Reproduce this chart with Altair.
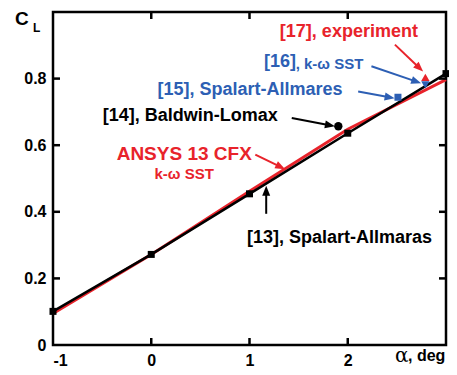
import math
import altair as alt
import pandas as pd

# ---------------- data ----------------
alpha = [-1, 0, 1, 2, 3]
cl_13 = [0.101, 0.272, 0.454, 0.636, 0.815]       # [13] Spalart-Allmaras (black, squares)
cl_ansys = [0.095, 0.272, 0.462, 0.648, 0.797]    # ANSYS 13 CFX k-w SST (red line)

pt14_a, pt14_c = [1.904], [0.657]   # [14] Baldwin-Lomax (black circle)
pt15_a, pt15_c = [2.511], [0.744]   # [15] Spalart-Allmares (blue square)
pt16_a, pt16_c = [2.79], [0.781]    # [16] k-w SST (blue triangle down)
pt17_a, pt17_c = [2.79], [0.804]    # [17] experiment (red triangle up)

x_tick_vals = [0, 1, 2]
y_tick_vals = [0.2, 0.4, 0.6, 0.8]
x_label_vals = [-1, 0, 1, 2]
y_label_vals = [0, 0.2, 0.4, 0.6, 0.8]

# annotation texts (left x, middle y in data units)
bold_texts = ["[17], experiment", "[16]", "[15], Spalart-Allmares", "ANSYS 13 CFX",
              "[13], Spalart-Allmaras", ", k-\u03c9 SST", "k-\u03c9 SST", "[14], Baldwin-Lomax"]
bold_x = [1.309, 1.147, 0.063, -0.352, 0.975, 1.47, 0.033, -0.494]
bold_y = [0.940, 0.850, 0.765, 0.573, 0.320, 0.845, 0.515, 0.6875]
bold_size = [18, 18, 18, 19, 18, 15, 15, 18]
bold_color = ["#e8232b", "#2d5fb4", "#2d5fb4", "#e8232b", "#000000", "#2d5fb4", "#e8232b", "#000000"]

# arrows: start -> tip, data units
arr_x0 = [2.480, 2.241, 2.106, 1.430, 1.059, 1.170]
arr_y0 = [0.902, 0.837, 0.761, 0.682, 0.572, 0.394]
arr_x1 = [2.767, 2.747, 2.477, 1.869, 1.363, 1.170]
arr_y1 = [0.821, 0.786, 0.741, 0.657, 0.528, 0.478]
arr_color = ["#e8232b", "#2d5fb4", "#2d5fb4", "#000000", "#e8232b", "#000000"]

RED = "#e8232b"
BLUE = "#2d5fb4"
FONT = "Liberation Sans"

W, H = 393, 333
XD, YD = [-1, 3], [0, 1]

xs = alt.Scale(domain=XD, nice=False, zero=False)
ys = alt.Scale(domain=YD, nice=False, zero=False)

AX_X = alt.Axis(values=x_label_vals, ticks=False, domain=False, grid=False, title=None,
                labelExpr="datum.value < 0 ? '-' + abs(datum.value) : '' + datum.value")
AX_Y = alt.Axis(values=y_label_vals, ticks=False, domain=False, grid=False, title=None,
                labelExpr="datum.value == 0 ? '0' : format(datum.value, '.1f')")


def to_px(a, c):
    return ((a - XD[0]) / (XD[1] - XD[0]) * W, (1 - (c - YD[0]) / (YD[1] - YD[0])) * H)


def to_data(px, py):
    return (XD[0] + px / W * (XD[1] - XD[0]), YD[0] + (1 - py / H) * (YD[1] - YD[0]))


# arrow geometry
rows = []
HEAD = 10.0
for x0, y0, x1, y1, col in zip(arr_x0, arr_y0, arr_x1, arr_y1, arr_color):
    p0 = to_px(x0, y0)
    p1 = to_px(x1, y1)
    dx, dy = p1[0] - p0[0], p1[1] - p0[1]
    L = math.hypot(dx, dy)
    ang = math.degrees(math.atan2(dx, -dy)) % 360
    e = to_data(p1[0] - dx / L * (HEAD - 2), p1[1] - dy / L * (HEAD - 2))
    rows.append(dict(x0=x0, y0=y0, xe=e[0], ye=e[1], x1=x1, y1=y1, color=col, angle=ang))
arrows = pd.DataFrame(rows)

lines = pd.DataFrame({"alpha": alpha, "cl13": cl_13, "ansys": cl_ansys})


def bx(f):
    return alt.X(f, type="quantitative", scale=xs, axis=AX_X, title=None)


def by(f):
    return alt.Y(f, type="quantitative", scale=ys, axis=AX_Y, title=None)


red_line = alt.Chart(lines).mark_line(color=RED, strokeWidth=3).encode(
    x=bx("alpha"), y=by("ansys"))
black_line = alt.Chart(lines).mark_line(color="black", strokeWidth=2.5).encode(
    x=bx("alpha"), y=by("cl13"))
black_sq = alt.Chart(lines).mark_square(color="black", size=49, opacity=1, clip=False).encode(
    x=bx("alpha"), y=by("cl13"))

p14 = alt.Chart(pd.DataFrame({"a": pt14_a, "c": pt14_c})).mark_circle(
    color="black", size=70, opacity=1).encode(x=bx("a"), y=by("c"))
p15 = alt.Chart(pd.DataFrame({"a": pt15_a, "c": pt15_c})).mark_square(
    color=BLUE, size=49, opacity=1).encode(x=bx("a"), y=by("c"))
p16 = alt.Chart(pd.DataFrame({"a": pt16_a, "c": pt16_c})).mark_point(
    shape="triangle-down", filled=True, color=BLUE, size=70, opacity=1).encode(x=bx("a"), y=by("c"))
p17 = alt.Chart(pd.DataFrame({"a": pt17_a, "c": pt17_c})).mark_point(
    shape="triangle-up", filled=True, color=RED, size=70, opacity=1).encode(x=bx("a"), y=by("c"))

# frame ticks (inward)
xt = pd.DataFrame({"v": x_tick_vals})
yt = pd.DataFrame({"v": y_tick_vals})
tick_b = alt.Chart(xt).mark_rule(color="black", strokeWidth=2.5).encode(
    x=bx("v"), y=alt.value(H), y2=alt.value(H - 7))
tick_t = alt.Chart(xt).mark_rule(color="black", strokeWidth=2.5).encode(
    x=bx("v"), y=alt.value(0), y2=alt.value(7))
tick_l = alt.Chart(yt).mark_rule(color="black", strokeWidth=2.5).encode(
    y=by("v"), x=alt.value(0), x2=alt.value(7))
tick_r = alt.Chart(yt).mark_rule(color="black", strokeWidth=2.5).encode(
    y=by("v"), x=alt.value(W), x2=alt.value(W - 7))

# arrows
arrow_lines = alt.Chart(arrows).mark_rule(strokeWidth=2).encode(
    x=bx("x0"), y=by("y0"), x2="xe:Q", y2="ye:Q",
    color=alt.Color("color:N", scale=None))
arrow_heads = alt.Chart(arrows).mark_point(
    shape="M0,0L-0.4,1L0.4,1Z", filled=True, size=400, opacity=1).encode(
    x=bx("x1"), y=by("y1"),
    color=alt.Color("color:N", scale=None),
    angle=alt.Angle("angle:Q", scale=None))

ann = pd.DataFrame({"t": bold_texts, "x": bold_x, "y": bold_y, "s": bold_size, "c": bold_color})
ann_text = alt.Chart(ann).mark_text(
    font=FONT, fontWeight="bold", align="left", baseline="middle", clip=False).encode(
    x=bx("x"), y=by("y"), text="t:N",
    size=alt.Size("s:Q", scale=None), color=alt.Color("c:N", scale=None))

# axis titles
c_lab = alt.Chart(pd.DataFrame({"t": ["C"]})).mark_text(
    font=FONT, fontWeight="bold", fontSize=19, align="left", baseline="middle", color="black").encode(
    x=alt.value(-38), y=alt.value(7), text="t:N")
l_lab = alt.Chart(pd.DataFrame({"t": ["L"]})).mark_text(
    font=FONT, fontWeight="bold", fontSize=12, align="left", baseline="middle", color="black").encode(
    x=alt.value(-20), y=alt.value(16), text="t:N")
a_lab = alt.Chart(pd.DataFrame({"t": ["\u03b1"]})).mark_text(
    font="DejaVu Serif", fontSize=20, align="left", baseline="middle", color="black").encode(
    x=alt.value(342), y=alt.value(344), text="t:N")
deg_lab = alt.Chart(pd.DataFrame({"t": [", deg"]})).mark_text(
    font=FONT, fontWeight="bold", fontSize=16, align="left", baseline="middle", color="black").encode(
    x=alt.value(355), y=alt.value(344), text="t:N")

chart = alt.layer(
    red_line, black_line, black_sq, p14, p15, p16, p17,
    tick_b, tick_t, tick_l, tick_r,
    arrow_lines, arrow_heads, ann_text,
    c_lab, l_lab, a_lab, deg_lab,
).properties(
    width=W, height=H,
    autosize=alt.AutoSizeParams(type="none"),
    padding={"left": 45, "top": 4, "right": 3, "bottom": 22},
).configure_view(
    stroke="black", strokeWidth=2.5
).configure_axis(
    labelFont=FONT, labelFontSize=16, labelFontWeight="bold", labelColor="black",
    labelPadding=7,
)

chart.save("out.html", embed_options={"renderer": "svg", "actions": False})
